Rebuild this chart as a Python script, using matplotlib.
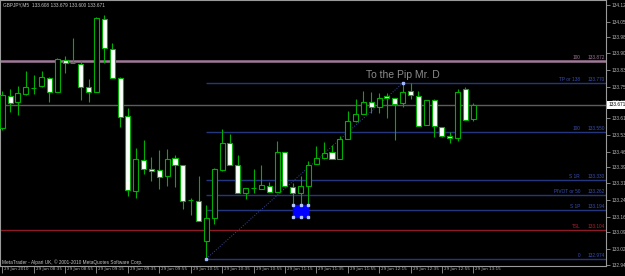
import matplotlib
matplotlib.use('Agg')
import matplotlib.pyplot as plt
from matplotlib.patches import Rectangle
import matplotlib.transforms as mtransforms

# GBPJPY M5 bars, 29 Jun 2010 08:15 - 13:15
opens = [133.567, 133.712, 133.685, 133.721, 133.748, 133.757, 133.794, 133.730, 133.875, 133.862,
         133.857, 133.753, 133.730, 134.061, 133.925, 133.794, 133.621, 133.281, 133.422, 133.381,
         133.376, 133.349, 133.431, 133.399, 133.240, 133.235, 133.054, 133.158, 133.376, 133.499,
         133.399, 133.272, 133.294, 133.290, 133.304, 133.276, 133.458, 133.299, 133.272, 133.304,
         133.403, 133.431, 133.458, 133.426, 133.517, 133.599, 133.630, 133.685, 133.662, 133.712,
         133.703, 133.680, 133.735, 133.712, 133.580, 133.694, 133.571, 133.530, 133.521, 133.744,
         133.608]
highs = [133.735, 133.744, 133.757, 133.825, 133.807, 133.825, 133.798, 133.884, 133.894, 133.975,
         133.871, 133.789, 134.071, 134.080, 133.953, 133.798, 133.658, 133.476, 133.512, 133.435,
         133.467, 133.471, 133.444, 133.399, 133.249, 133.349, 133.217, 133.385, 133.562, 133.540,
         133.444, 133.294, 133.381, 133.399, 133.322, 133.508, 133.458, 133.317, 133.349, 133.417,
         133.485, 133.503, 133.490, 133.530, 133.644, 133.698, 133.735, 133.730, 133.726, 133.726,
         133.703, 133.771, 133.771, 133.735, 133.694, 133.698, 133.571, 133.549, 133.744, 133.753,
         133.679]
lows = [133.558, 133.639, 133.626, 133.717, 133.721, 133.753, 133.685, 133.730, 133.816, 133.862,
        133.694, 133.685, 133.730, 133.862, 133.794, 133.571, 133.258, 133.249, 133.358, 133.326,
        133.290, 133.304, 133.299, 133.199, 133.172, 133.145, 132.974, 133.131, 133.372, 133.399,
        133.272, 133.245, 133.272, 133.290, 133.276, 133.276, 133.304, 133.217, 133.217, 133.217,
        133.403, 133.426, 133.426, 133.426, 133.517, 133.594, 133.630, 133.635, 133.635, 133.612,
        133.512, 133.662, 133.698, 133.576, 133.580, 133.526, 133.526, 133.499, 133.508, 133.603,
        133.600]
closes = [133.717, 133.680, 133.726, 133.753, 133.748, 133.798, 133.730, 133.880, 133.862, 133.862,
          133.753, 133.730, 134.066, 133.930, 133.794, 133.617, 133.285, 133.426, 133.381, 133.372,
          133.344, 133.426, 133.399, 133.235, 133.240, 133.145, 133.158, 133.381, 133.499, 133.399,
          133.272, 133.294, 133.294, 133.308, 133.276, 133.458, 133.304, 133.272, 133.304, 133.399,
          133.431, 133.453, 133.426, 133.517, 133.599, 133.630, 133.685, 133.662, 133.703, 133.703,
          133.676, 133.730, 133.717, 133.576, 133.694, 133.576, 133.530, 133.521, 133.730, 133.603,
          133.671]

time_labels = ['29 Jun 2010', '29 Jun 08:35', '29 Jun 08:55', '29 Jun 09:15', '29 Jun 09:35',
               '29 Jun 09:55', '29 Jun 10:15', '29 Jun 10:35', '29 Jun 10:55', '29 Jun 11:15',
               '29 Jun 11:35', '29 Jun 11:55', '29 Jun 12:15', '29 Jun 12:35', '29 Jun 12:55',
               '29 Jun 13:15']
price_ticks = [134.125, 134.050, 133.980, 133.905, 133.830, 133.755, 133.685, 133.610, 133.535,
               133.460, 133.390, 133.315, 133.240, 133.165, 133.095, 133.020, 132.945]

fib_names = ['TP or 138', '100', 'S 1R', 'PIVOT or 50', 'S 1P', '0']
fib_prices = [133.770, 133.550, 133.330, 133.262, 133.194, 132.974]
top_level = 133.872
tsl_level = 133.104
bid = 133.671
box_low, box_high = 133.163, 133.217

green = '#00b000'
blue = '#24367e'
bg = '#000000'

fig = plt.figure(figsize=(6.25, 2.76), dpi=100, facecolor=bg)
ax = fig.add_axes([0, 10/276, 606/625, 266/276], facecolor=bg)
ax.set_xlim(-0.29, 76.9)
ax.set_ylim(132.9406, 134.1477)

for s in ax.spines.values():
    s.set_color('#9a9a9a')
    s.set_linewidth(0.8)

# horizontal levels
ax.axhline(top_level, color='#a07898', lw=1.8, zorder=1)
ax.axhline(bid, color='#5c5c5c', lw=1.0, zorder=1)
ax.axhline(tsl_level, color='#8c1a28', lw=1.0, zorder=1)
for p in fib_prices:
    ax.hlines(p, 26, 80, color=blue, lw=1.0, zorder=1)

# fibo trend line
ax.plot([26, 51], [fib_prices[-1], fib_prices[0]], color='#3a4a9a', lw=0.7, ls=':', zorder=1)
ax.plot([26, 51], [fib_prices[-1], fib_prices[0]], ls='none', marker='s', ms=2,
        color='#a0b8ff', zorder=5)

# candles
for i in range(len(opens)):
    o, h, l, c = opens[i], highs[i], lows[i], closes[i]
    ax.vlines(i, l, h, color=green, lw=0.8, zorder=2)
    if o == c:
        ax.hlines(o, i - 0.32, i + 0.32, color=green, lw=0.8, zorder=3)
        continue
    fill = 'white' if c < o else bg
    ax.bar(i, abs(c - o), bottom=min(o, c), width=0.64, facecolor=fill,
           edgecolor=green, linewidth=0.8, zorder=3)

# blue rectangle
ax.add_patch(Rectangle((37, box_low), 2, box_high - box_low, facecolor='#0000ff',
                       edgecolor='#0000ff', zorder=4))
ax.plot([37, 38, 39, 37, 38, 39], [box_high] * 3 + [box_low] * 3, ls='none', marker='s',
        ms=1.8, color='#b0c4ff', zorder=5)

# level labels
tr = mtransforms.blended_transform_factory(ax.transAxes, ax.transData)
lab_font = dict(fontsize=3.4, family='Liberation Sans', va='bottom', transform=tr)
ax.text(580/606, top_level + 0.004, '100', color='#a07898', ha='right', **lab_font)
ax.text(605/606, top_level + 0.004, '%.3f' % top_level, color='#a07898', ha='right', **lab_font)
for n, p in zip(fib_names, fib_prices):
    ax.text(580/606, p + 0.004, n, color='#3a50b0', ha='right', **lab_font)
    ax.text(605/606, p + 0.004, '%.3f' % p, color='#3a50b0', ha='right', **lab_font)
ax.text(580/606, tsl_level + 0.004, 'TSL', color='#b02030', ha='right', **lab_font)
ax.text(605/606, tsl_level + 0.004, '%.3f' % tsl_level, color='#b02030', ha='right', **lab_font)

ax.text(51, 133.807, 'To the Pip Mr. D', color='#8c8c8c', fontsize=7.5,
        family='Liberation Sans', ha='center', va='center')

# axes ticks
ax.yaxis.tick_right()
ax.set_yticks(price_ticks)
ax.set_yticklabels(['%.3f' % t for t in price_ticks])
ax.tick_params(axis='y', direction='out', length=3, width=0.6, color='#9a9a9a',
               labelsize=3.4, labelcolor='#b4b4b4', pad=1)
ax.set_xticks(range(0, 61, 4))
ax.set_xticklabels(time_labels, ha='left')
ax.tick_params(axis='x', direction='out', length=5, width=0.6, color='#9a9a9a',
               labelsize=3.0, labelcolor='#b4b4b4', pad=-4)
for lbl in ax.get_xticklabels():
    lbl.set_transform(lbl.get_transform() + mtransforms.ScaledTranslation(2/100, 0, fig.dpi_scale_trans))
for lbl in ax.get_yticklabels():
    lbl.set_family('Liberation Sans')

# bid price box
fig.patches.append(Rectangle((607/625, 1 - 109/276), 18/625, 8/276, facecolor='white',
                             transform=fig.transFigure, zorder=5))
fig.text(609/625, 1 - 105/276, '%.3f' % bid, fontsize=3.4, color='black', va='center',
         family='Liberation Sans', zorder=6)

fig.text(3/625, 1 - 5/276, 'GBPJPY,M5  133.608 133.679 133.600 133.671', fontsize=3.4,
         color='#c8c8c8', va='center', family='Liberation Sans')
fig.text(2/625, 1 - 262/276, 'MetaTrader - Alpari UK, \u00a9 2001-2010 MetaQuotes Software Corp.',
         fontsize=3.4, color='#c8c8c8', va='center', family='Liberation Sans')

plt.savefig('out.png', dpi=100, facecolor=bg)
plt.close()
